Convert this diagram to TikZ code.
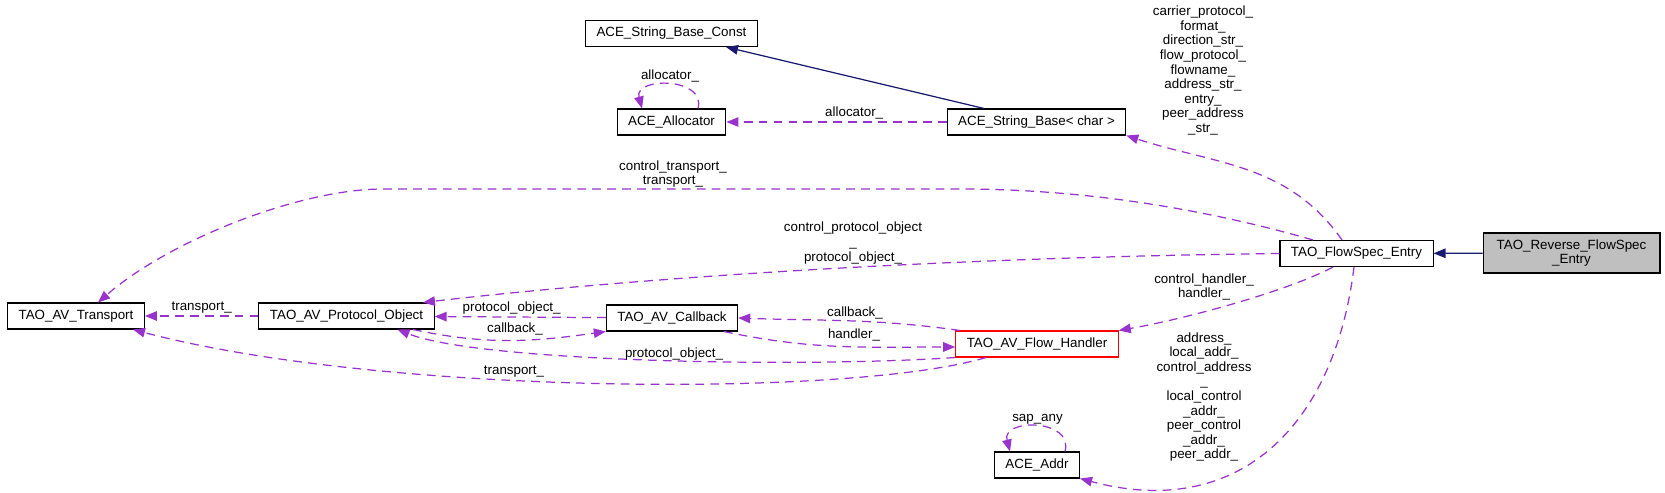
\documentclass[tikz,border=0pt]{standalone}
\usepackage{fontspec}
\setmainfont{Liberation Sans}
\usetikzlibrary{arrows.meta}
\definecolor{edgepurple}{HTML}{9A32CD}
\definecolor{inhblue}{HTML}{191970}
\definecolor{mainfill}{HTML}{BFBFBF}

\begin{document}
\begin{tikzpicture}[x=0.02cm,y=-0.02cm,
  font=\fontsize{7.6}{8.3}\selectfont,
  >={Triangle[length=0.24cm,width=0.19cm]},
  cls/.style={rectangle,draw=black,line width=0.6pt,fill=white,inner xsep=0.22cm,inner ysep=0pt,minimum height=0.52cm},
  member/.style={->,draw=edgepurple,line width=0.7pt,dash pattern=on 5pt off 3.5pt},
  inherit/.style={->,draw=inhblue,line width=0.7pt},
  lbl/.style={inner sep=1pt,align=center}]
\useasboundingbox (0,0) rectangle (1665,493);
%
\node (strconst) [cls] at (671.5,33.5) {ACE\_String\_Base\_Const};
\node (allocator) [cls] at (671.5,122) {ACE\_Allocator};
\node (strbase) [cls] at (1036.5,122) {ACE\_String\_Base< char >};
\node (flowspec) [cls] at (1356.5,253.5) {TAO\_FlowSpec\_Entry};
\node (revflowspec) [cls,fill=mainfill,align=center,minimum width=3.54cm,minimum height=0.8cm] at (1571.5,253) {TAO\_Reverse\_FlowSpec\\\_Entry};
\node (transport) [cls] at (76,316) {TAO\_AV\_Transport};
\node (protobj) [cls] at (346.5,316) {TAO\_AV\_Protocol\_Object};
\node (callback) [cls] at (672,318) {TAO\_AV\_Callback};
\node (flowhandler) [cls,draw=red] at (1037,344) {TAO\_AV\_Flow\_Handler};
\node (addr) [cls] at (1037,465) {ACE\_Addr};
%
\draw[inherit] (revflowspec) to (flowspec);
\draw[inherit] ([xshift=-10.5mm]strbase.north) to ([xshift=10.9mm]strconst.south);
%
\draw[member] (strbase) to node[lbl,above,pos=0.42] (lblalloc) {allocator\_} (allocator);
\draw[member] ([xshift=5.3mm]allocator.north) to[out=75,in=105,looseness=1.5] node[lbl,above] (lblallocself) {allocator\_} ([xshift=-5.9mm]allocator.north);
\draw[member] ([xshift=-2.9mm]flowspec.north) to[out=125,in=-18] (strbase.south east);
\node (lblstrbase) [lbl] at (1203,70.5) {carrier\_protocol\_\\format\_\\direction\_str\_\\flow\_protocol\_\\flowname\_\\address\_str\_\\entry\_\\peer\_address\\\_str\_};
%
\draw[member] ([xshift=-8.7mm]flowspec.north) .. controls (1250,222) and (1120,189) .. (960,189) -- (383,189) .. controls (300,189) and (170,240) .. ([xshift=4.4mm]transport.north);
\node (lbltransport) [lbl] at (673,174) {control\_transport\_\\transport\_};
\draw[member] (flowspec.west) .. controls (900,258) and (600,282) .. ([xshift=15.3mm]protobj.north);
\node (lblprotobj) [lbl] at (853,243) {control\_protocol\_object\\\_\\protocol\_object\_};
\draw[member] ([xshift=-4.7mm]flowspec.south) .. controls (1290,290) and (1190,318) .. (flowhandler.north east);
\node (lblhandler) [lbl] at (1204,287) {control\_handler\_\\handler\_};
\draw[member] ([xshift=-0.5mm]flowspec.south) to[out=-97,in=-15,looseness=1.2] (addr.south east);
\node (lbladdr) [lbl] at (1204,397) {address\_\\local\_addr\_\\control\_address\\\_\\local\_control\\\_addr\_\\peer\_control\\\_addr\_\\peer\_addr\_};
\draw[member] ([xshift=5.6mm]addr.north) to[out=75,in=105,looseness=1.6] node[lbl,above] (lblsapany) {sap\_any} ([xshift=-5.4mm]addr.north);
%
\draw[member] ([xshift=-15.4mm]flowhandler.north) to[out=172,in=-2] (callback.east);
\node (lblcallback) [lbl] at (855,313) {callback\_};
\draw[member] ([xshift=10.4mm]callback.south) to[out=-12,in=180] ([yshift=-0.6mm]flowhandler.west);
\node (lblflowhandler) [lbl] at (854,335) {handler\_};
\draw[member] (flowhandler.south west) .. controls (800,368) and (480,362) .. ([xshift=10.2mm]protobj.south);
\node (lblprotobjlow) [lbl] at (674,354) {protocol\_object\_};
\draw[member] (callback) to node[lbl,above,pos=0.55] (lblprotobjmid) {protocol\_object\_} (protobj);
\draw[member] ([xshift=13.3mm]protobj.south) to[out=-12,in=188] (callback.south west);
\node (lblcallbacklow) [lbl] at (515,329) {callback\_};
\draw[member] (protobj) to node[lbl,above] (lbltransportmid) {transport\_} (transport);
\draw[member] ([xshift=-10.2mm]flowhandler.south) .. controls (850,398) and (380,395) .. ([xshift=11.4mm]transport.south);
\node (lbltransportlow) [lbl] at (514,372) {transport\_};
\end{tikzpicture}
\end{document}
